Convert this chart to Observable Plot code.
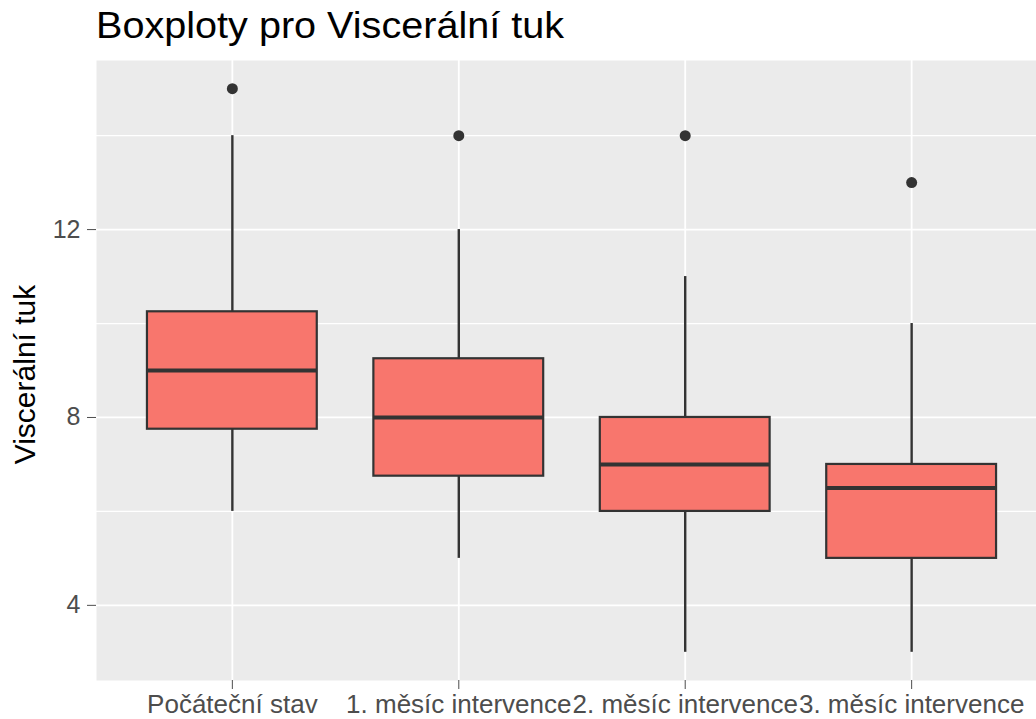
<!DOCTYPE html>
<html>
<head>
<meta charset="utf-8">
<script src="https://cdn.jsdelivr.net/npm/d3@7"></script>
<script src="https://cdn.jsdelivr.net/npm/@observablehq/plot@0.6"></script>
<style>
  html, body { margin: 0; padding: 0; background: white; overflow: hidden; }
  body { width: 1036px; height: 719px; font-family: "Liberation Sans", Arial, sans-serif; }
  #title { height: 50px; line-height: 52px; padding-left: 96px; font-size: 36px; color: #000; white-space: nowrap;
           transform: scaleX(1.1); transform-origin: 96px 0; }
  #chart svg { display: block; }
</style>
</head>
<body>
<div id="title">Boxploty pro Viscerální tuk</div>
<div id="chart"></div>
<script>
const chartTitle = "Boxploty pro Viscerální tuk";
const yTitle = "Viscerální tuk";
const categories = ["Počáteční stav", "1. měsíc intervence", "2. měsíc intervence", "3. měsíc intervence"];
const lowerWhisker = [6, 5, 3, 3];
const q1 = [7.75, 6.75, 6, 5];
const median = [9, 8, 7, 6.5];
const q3 = [10.25, 9.25, 8, 7];
const upperWhisker = [14, 12, 11, 10];
const outlierValues = [15, 14, 14, 13];
const yTicks = [4, 8, 12];
const yMinor = [6, 10, 14];

const boxWidth = 0.75;
const table = categories.map((c, i) => ({
  i, c,
  lo: lowerWhisker[i], q1: q1[i], med: median[i], q3: q3[i], hi: upperWhisker[i],
  x1: i - boxWidth / 2, x2: i + boxWidth / 2
}));
const outliers = outlierValues.map((v, i) => ({i, v}));
const idx = categories.map((c, i) => i);

const font = "'Liberation Sans', Arial, sans-serif";

const plot = Plot.plot({
  width: 1036,
  height: 669,
  marginTop: 10,
  marginBottom: 39,
  marginLeft: 96,
  marginRight: 0,
  style: {fontFamily: font, background: "transparent", overflow: "hidden"},
  x: {type: "linear", domain: [-0.6, 3.6], range: [96, 1047]},
  y: {domain: [2.4, 15.6]},
  marks: [
    Plot.frame({fill: "#EBEBEB", stroke: null}),
    Plot.ruleY(yMinor, {stroke: "white", strokeWidth: 1.2}),
    Plot.ruleY(yTicks, {stroke: "white", strokeWidth: 1.8}),
    Plot.ruleX(idx, {stroke: "white", strokeWidth: 1.8}),
    Plot.ruleX(table, {x: "i", y1: "lo", y2: "q1", stroke: "#333333", strokeWidth: 2.4}),
    Plot.ruleX(table, {x: "i", y1: "q3", y2: "hi", stroke: "#333333", strokeWidth: 2.4}),
    Plot.rect(table, {x1: "x1", x2: "x2", y1: "q1", y2: "q3", fill: "#F8766D", stroke: "#333333", strokeWidth: 2.2}),
    Plot.ruleY(table, {y: "med", x1: "x1", x2: "x2", stroke: "#333333", strokeWidth: 4}),
    Plot.dot(outliers, {x: "i", y: "v", r: 5.5, fill: "#333333", stroke: null}),
    Plot.axisY({ticks: yTicks, tickSize: 9, tickPadding: 7, fontSize: 25, color: "#4D4D4D", label: null}),
    Plot.axisX({ticks: idx, tickFormat: i => categories[i], tickSize: 9, tickPadding: 5, fontSize: 26, color: "#4D4D4D", label: null}),
    Plot.text([yTitle], {text: d => d, frameAnchor: "left", textAnchor: "middle", dx: -71, dy: 4, rotate: -90, fontSize: 30, fill: "black"})
  ]
});
document.getElementById("chart").appendChild(plot);
</script>
</body>
</html>
